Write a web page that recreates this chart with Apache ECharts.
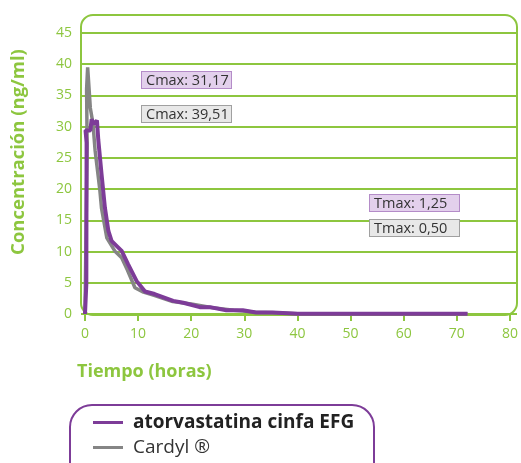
<!DOCTYPE html>
<html><head><meta charset="utf-8">
<script src="https://cdn.jsdelivr.net/npm/echarts@6/dist/echarts.min.js"></script>
<style>html,body{margin:0;padding:0;background:#fff}#c{width:521px;height:463px}</style>
</head><body><div id="c"></div>
<script>
const seriesNames = ['atorvastatina cinfa EFG', 'Cardyl ®'];
const xTicks = [0, 10, 20, 30, 40, 50, 60, 70, 80];
const yTicks = [0, 5, 10, 15, 20, 25, 30, 35, 40, 45];
const atorvastatina = [[0,0],[0.25,4.8],[0.3,27.4],[0.1,29.4],[1,29.4],[1.25,31.17],[1.75,30.4],[2.25,31],[2.5,27.9],[3.1,22.5],[3.75,17],[4.4,13.3],[5,11.7],[5.6,11.2],[6.9,10.1],[8.1,8],[9.7,5.3],[11.3,3.6],[13.1,3.2],[16.6,2.1],[18.5,1.8],[21.6,1.1],[23.5,1.1],[26.6,0.6],[29.7,0.6],[32.2,0.25],[35.3,0.25],[40,0.05],[48,0.05],[72,0.05]];
const cardyl = [[0,0],[0.4,27],[0.3,36],[0.05,36],[0.5,39.51],[1,33],[1.5,30.5],[1.9,26.2],[2.8,19.8],[3.1,17],[4.1,12.2],[5.6,10.1],[6.9,9],[8,7],[9.4,4.2],[11,3.5],[13,3],[16.5,2],[20,1.6],[24,1],[28,0.6],[32,0.3],[36,0.2],[40,0.05],[72,0.05]];
const notes = ['Cmax: 31,17', 'Cmax: 39,51', 'Tmax: 1,25', 'Tmax: 0,50'];

const green = '#8DC63F', purple = '#7D3C98', gray = '#858585';
const font = 'Open Sans';
const chart = echarts.init(document.getElementById('c'));
const noteStyle = (bg, border) => ({ fontFamily: font, fontSize: 14.5, fill: '#333', backgroundColor: bg, borderColor: border, borderWidth: 1, padding: [1, 4, 0, 4], width: 81 });
const legendBase = { left: 93, orient: 'horizontal', itemWidth: 30, itemHeight: 3, icon: 'rect', padding: 0 };
chart.setOption({
  animation: false,
  grid: [
    { left: 85, right: 10, top: 33, bottom: 149 },
    { left: 81, right: 4, top: 33, bottom: 149 }
  ],
  xAxis: [
    { gridIndex: 0, type: 'value', min: xTicks[0], max: xTicks[xTicks.length - 1], interval: 10,
      axisLine: { show: false }, axisTick: { show: true, length: 7, lineStyle: { color: green, width: 2 } },
      axisLabel: { color: green, fontFamily: font, fontSize: 14, margin: 13 }, splitLine: { show: false } },
    { gridIndex: 1, type: 'value', min: 0, max: 1, show: false }
  ],
  yAxis: [
    { gridIndex: 0, type: 'value', min: yTicks[0], max: yTicks[yTicks.length - 1], interval: 5,
      axisLine: { show: false }, axisTick: { show: false },
      axisLabel: { color: green, fontFamily: font, fontSize: 14, margin: 13 }, splitLine: { show: false } },
    { gridIndex: 1, type: 'value', min: 0, max: 45, interval: 5,
      axisLine: { show: false }, axisTick: { show: false }, axisLabel: { show: false },
      splitLine: { show: true, lineStyle: { color: green, width: 2 } } }
  ],
  legend: [
    Object.assign({}, legendBase, { top: 413, data: [seriesNames[0]],
      textStyle: { fontFamily: font, fontSize: 19, fontWeight: 'bold', color: '#222', padding: [0, 0, 0, 5] } }),
    Object.assign({}, legendBase, { top: 438, data: [seriesNames[1]],
      textStyle: { fontFamily: font, fontSize: 19, color: '#333', padding: [0, 0, 0, 5] } })
  ],
  series: [
    { name: seriesNames[1], type: 'line', xAxisIndex: 0, yAxisIndex: 0, data: cardyl, showSymbol: false,
      lineStyle: { color: gray, width: 3.5 }, itemStyle: { color: gray }, z: 2 },
    { name: seriesNames[0], type: 'line', xAxisIndex: 0, yAxisIndex: 0, data: atorvastatina, showSymbol: false,
      lineStyle: { color: purple, width: 4 }, itemStyle: { color: purple }, z: 3 }
  ],
  graphic: [
    { type: 'rect', shape: { x: 81, y: 15, width: 436, height: 300, r: 12 }, style: { fill: 'none', stroke: green, lineWidth: 2 }, z: 1 },
    { type: 'rect', shape: { x: 70, y: 405, width: 304, height: 80, r: 22 }, style: { fill: 'none', stroke: purple, lineWidth: 2 }, z: 1 },
    { type: 'text', x: 19, y: 152, rotation: Math.PI / 2, style: { text: 'Concentración (ng/ml)', fontFamily: font, fontWeight: 'bold', fontSize: 18.5, fill: green, align: 'center', verticalAlign: 'middle' } },
    { type: 'text', x: 77, y: 372, style: { text: 'Tiempo (horas)', fontFamily: font, fontWeight: 'bold', fontSize: 18, fill: green, align: 'left', verticalAlign: 'middle' } },
    { type: 'text', x: 142, y: 72, style: Object.assign({ text: notes[0] }, noteStyle('#E3D0EC', '#B48CC8')), z: 10 },
    { type: 'text', x: 142, y: 106, style: Object.assign({ text: notes[1] }, noteStyle('#E8E8E8', '#A0A0A0')), z: 10 },
    { type: 'text', x: 370, y: 195, style: Object.assign({ text: notes[2] }, noteStyle('#E3D0EC', '#B48CC8')), z: 10 },
    { type: 'text', x: 370, y: 220, style: Object.assign({ text: notes[3] }, noteStyle('#E8E8E8', '#A0A0A0')), z: 10 }
  ]
});
</script></body></html>
